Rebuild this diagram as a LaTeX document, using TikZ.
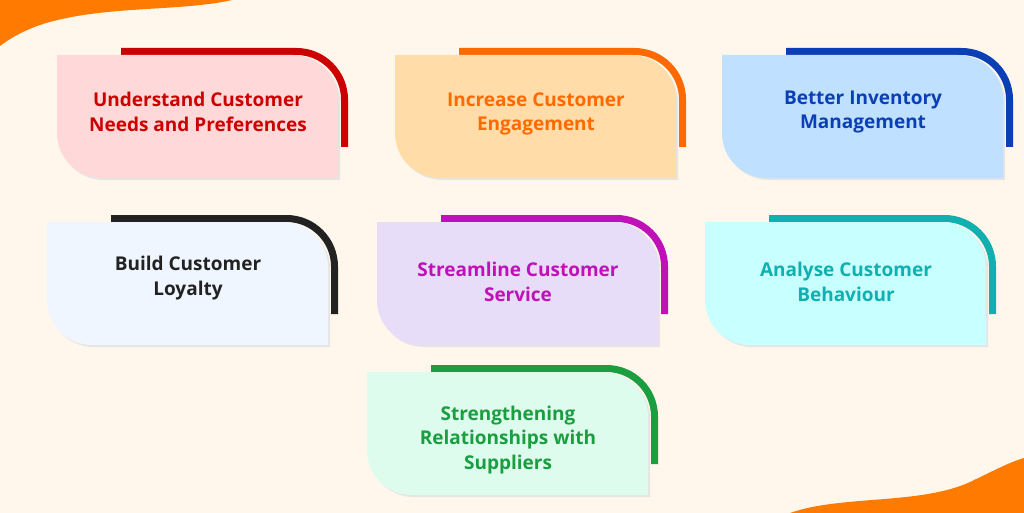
\documentclass[tikz,border=0pt]{standalone}
\usepackage{fontspec}
\setmainfont{Open Sans}
\definecolor{bgc}{HTML}{FFF7EB}
\definecolor{org}{HTML}{FF7A00}
\definecolor{c1}{HTML}{CC0000}\definecolor{f1}{HTML}{FFD9D9}
\definecolor{c2}{HTML}{FF6A00}\definecolor{f2}{HTML}{FFDCA8}
\definecolor{c3}{HTML}{0A3FB5}\definecolor{f3}{HTML}{BFE0FF}
\definecolor{c4}{HTML}{222222}\definecolor{f4}{HTML}{F0F6FF}
\definecolor{c5}{HTML}{C010B8}\definecolor{f5}{HTML}{E8DDF8}
\definecolor{c6}{HTML}{10B0B0}\definecolor{f6}{HTML}{C8FFFF}
\definecolor{c7}{HTML}{1A9E40}\definecolor{f7}{HTML}{DDFCEE}
\newcommand{\mycard}[7]{%
 % #1 x, #2 y, #3 fill, #4 line, #5 name, #6 text, #7 text y offset
 \draw[line width=7pt,#4] (#1+64,#2-3.5) -- (#1+239.5,#2-3.5)
   .. controls (#1+266,#2-3.5) and (#1+287.5,#2+18) .. (#1+287.5,#2+44.5) -- (#1+287.5,#2+92);
 \fill[black!10] (#1+2,#2+2) -- (#1+238,#2+2) .. controls (#1+263,#2+2) and (#1+283,#2+22) .. (#1+283,#2+47)
   -- (#1+283,#2+125) -- (#1+47,#2+125) .. controls (#1+22,#2+125) and (#1+2,#2+105) .. (#1+2,#2+80) -- cycle;
 \fill[#3] (#1,#2) -- (#1+236,#2) .. controls (#1+261,#2) and (#1+281,#2+20) .. (#1+281,#2+45)
   -- (#1+281,#2+123) -- (#1+45,#2+123) .. controls (#1+20,#2+123) and (#1+0,#2+103) .. (#1+0,#2+78) -- cycle;
 \node[txt,text=#4] (#5) at (#1+141,#2+#7) {#6};
}
\tikzset{txt/.style={font=\fontsize{19}{24.5}\selectfont\bfseries,align=center}}
\begin{document}
\begin{tikzpicture}[x=1pt,y=-1pt]
\useasboundingbox (0,0) rectangle (1024,513);
\fill[bgc] (0,0) rectangle (1024,513);
\fill[org] (0,0) -- (232,0) .. controls (180,12) and (100,5) .. (40,25) .. controls (20,32) and (8,40) .. (0,46) -- cycle;
\fill[org] (1024,513) -- (790,513) .. controls (840,495) and (920,505) .. (970,482) .. controls (995,470) and (1010,462) .. (1024,458) -- cycle;
\mycard{57}{55}{f1}{c1}{n1}{Understand Customer\\Needs and Preferences}{57}
\mycard{395}{55}{f2}{c2}{n2}{Increase Customer\\Engagement}{59}
\mycard{722}{55}{f3}{c3}{n3}{Better Inventory\\Management}{57}
\mycard{47}{222}{f4}{c4}{n4}{Build Customer\\Loyalty}{56}
\mycard{377}{222}{f5}{c5}{n5}{Streamline Customer\\Service}{60}
\mycard{705}{222}{f6}{c6}{n6}{Analyse Customer\\Behaviour}{60}
\mycard{367}{372}{f7}{c7}{n7}{Strengthening\\Relationships with\\Suppliers}{68}
\end{tikzpicture}
\end{document}
